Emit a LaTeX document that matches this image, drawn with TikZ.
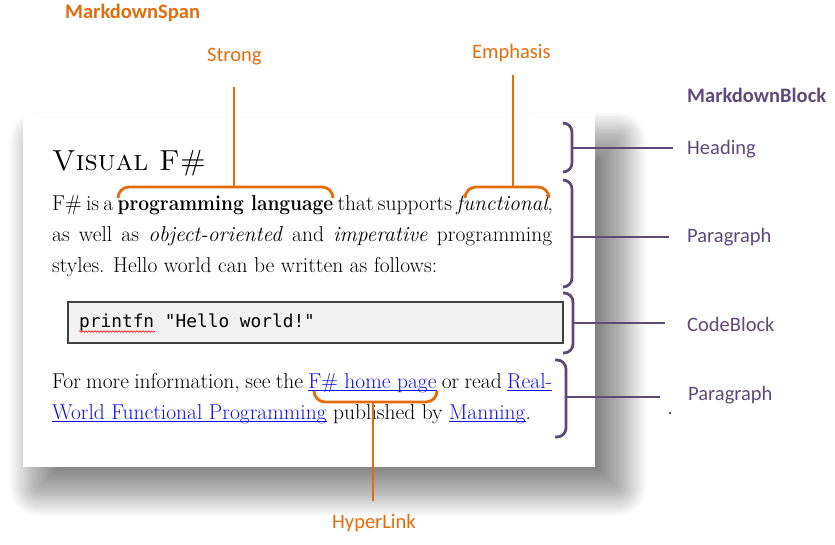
\documentclass[tikz,border=0pt]{standalone}
\usepackage{graphicx}
\usepackage{fontspec}
\newfontfamily\labfont{Carlito}
\newfontfamily\codefont{DejaVu Sans Mono}
\usetikzlibrary{decorations.pathmorphing}
\definecolor{ospan}{HTML}{E46C0A}
\definecolor{pblock}{HTML}{5F497A}
\definecolor{linkblue}{HTML}{1010F0}
\definecolor{codebg}{HTML}{F2F2F2}
\definecolor{codeline}{HTML}{404040}
\newcommand\hlink[1]{{\color{linkblue}\setbox0\hbox{#1}\rlap{\rule[-3pt]{\wd0}{0.9pt}}\box0}}
\newcommand\narrowbf[1]{\scalebox{0.89}[1]{\textbf{#1}}}
\begin{document}
\begin{tikzpicture}[x=1pt,y=-1pt,
  spanline/.style={draw=ospan,line width=2.8pt,rounded corners=11pt},
  blockline/.style={draw=pblock,line width=2.8pt,rounded corners=9pt},
  spanlab/.style={anchor=base west,inner sep=0pt,text=ospan,font=\labfont\fontsize{20.5}{24}\selectfont},
  blocklab/.style={anchor=base west,inner sep=0pt,text=pblock,font=\labfont\fontsize{20.5}{24}\selectfont},
  bodytxt/.style={anchor=base west,inner sep=0pt,font=\fontsize{21.5}{24}\selectfont}]
\useasboundingbox (0,0) rectangle (835,544);
\fill[white] (0,0) rectangle (835,544);
% shadow
\foreach \i in {0,...,39}{
  \pgfmathsetmacro\shT{\i*1.4}
  \pgfmathsetmacro\shR{max(1,29-\shT)}
  \fill[black,fill opacity=0.015,rounded corners=\shR pt]
    (10+\shT,112+\shT) rectangle (646-\shT,516-\shT);
}
% page
\node[fill=white,inner sep=0pt,minimum width=572pt,minimum height=354pt] (page) at (309,290) {};
% heading
\node[anchor=base west,inner sep=0pt,font=\fontsize{29}{34}\selectfont] (head) at (52,170) {\textsc{Visual F\#}};
% paragraph 1
\node[bodytxt] (l1) at (52,210) {\makebox[500pt][s]{F\# is a \narrowbf{programming language} that supports \textit{functional},}};
\node[bodytxt] (l2) at (52,241) {\makebox[500pt][s]{as well as \textit{object-oriented} and \textit{imperative} programming}};
\node[bodytxt] (l3) at (52,272) {styles. Hello world can be written as follows:};
% code block
\node[draw=codeline,fill=codebg,line width=1.2pt,inner sep=0pt,minimum width=495pt,minimum height=41pt] (cbox) at (315.5,322.5) {};
\node[anchor=base west,inner sep=0pt,font=\codefont\fontsize{17.8}{20}\selectfont] (code) at (79,327) {printfn "Hello world!"};
\draw[red,line width=0.6pt,decorate,decoration={snake,amplitude=0.8pt,segment length=3pt}] (79,331.5) -- (155,331.5);
% paragraph 2
\node[bodytxt] (l4) at (52,388) {\makebox[500pt][s]{For more information, see the \hlink{F\# home page} or read \hlink{Real-}}};
\node[bodytxt] (l5) at (52,419) {\hlink{World Functional Programming} published by \hlink{Manning}.};
% span labels
\node[spanlab,font=\labfont\bfseries\fontsize{20.5}{24}\selectfont] (mspan) at (65,18) {MarkdownSpan};
\node[spanlab] (strong) at (207,61) {Strong};
\node[spanlab] (emph) at (472,58) {Emphasis};
\node[spanlab] (hyper) at (332,528) {HyperLink};
% block labels
\node[blocklab,font=\labfont\bfseries\fontsize{20.5}{24}\selectfont] (mblock) at (687,102) {MarkdownBlock};
\node[blocklab] (lhead) at (687,154) {Heading};
\node[blocklab] (lpara1) at (687,242) {Paragraph};
\node[blocklab] (lcode) at (687,331) {CodeBlock};
\node[blocklab] (lpara2) at (688,400) {Paragraph};
% span braces and connectors
\coordinate (strongTop) at (234,87);
\coordinate (strongMid) at (234,187);
\draw[spanline] (118,198) -- (118,187) -- (333,187) -- (333,198);
\draw[spanline] (strongTop) -- (strongMid);
\coordinate (emphTop) at (513,75);
\coordinate (emphMid) at (513,187);
\draw[spanline] (465,198) -- (465,187) -- (549,187) -- (549,198);
\draw[spanline] (emphTop) -- (emphMid);
\coordinate (hyperMid) at (373,402);
\coordinate (hyperBot) at (373,501);
\draw[spanline] (314,391) -- (314,402) -- (437,402) -- (437,391);
\draw[spanline] (hyperMid) -- (hyperBot);
% block braces and connectors
\draw[blockline] (563,123) -- (572,123) -- (572,172) -- (563,172);
\coordinate (hdA) at (572,148); \coordinate (hdB) at (673,148);
\draw[blockline] (hdA) -- (hdB);
\draw[blockline] (563,180) -- (572,180) -- (572,287) -- (563,287);
\coordinate (p1A) at (572,237); \coordinate (p1B) at (669,237);
\draw[blockline] (p1A) -- (p1B);
\draw[blockline] (563,293) -- (573,293) -- (573,353) -- (563,353);
\coordinate (cbA) at (573,323); \coordinate (cbB) at (665,323);
\draw[blockline] (cbA) -- (cbB);
\draw[blockline] (555,360) -- (566,360) -- (566,437) -- (555,437);
\coordinate (p2A) at (566,397); \coordinate (p2B) at (660,397);
\draw[blockline] (p2A) -- (p2B);
\fill[pblock] (669.2,412.2) rectangle (670.8,413.8);
\end{tikzpicture}
\end{document}
